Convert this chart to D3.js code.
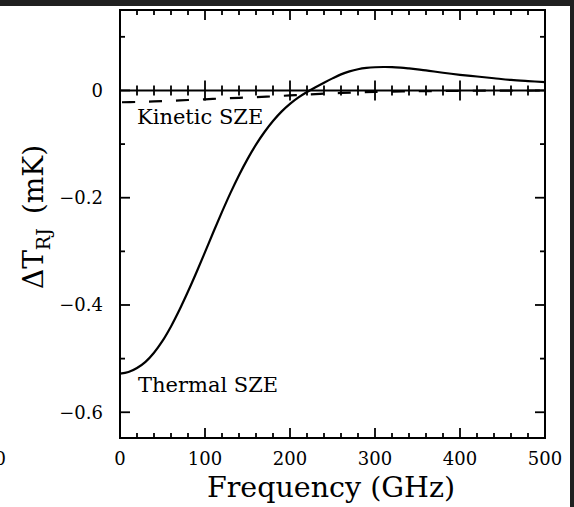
<!DOCTYPE html>
<html><head><meta charset="utf-8">
<script src="https://cdn.jsdelivr.net/npm/d3@7"></script>
<style>html,body{margin:0;padding:0;background:#fff;} svg{display:block;}</style>
</head><body>
<script>
// ---- data ----
const thermalFreq = [0,10,20,30,40,50,60,70,80,90,100,110,120,130,140,150,160,170,180,190,200,210,220,230,240,250,260,270,280,290,300,310,320,330,340,350,360,380,400,420,440,460,480,500];
const thermalVals = [-0.528,-0.525,-0.5175,-0.506,-0.489,-0.467,-0.440,-0.409,-0.375,-0.339,-0.3015,-0.2635,-0.2265,-0.191,-0.158,-0.128,-0.101,-0.0775,-0.057,-0.0395,-0.025,-0.013,-0.003,0.006,0.0145,0.0225,0.030,0.0355,0.0395,0.042,0.0433,0.0437,0.0435,0.0425,0.041,0.0393,0.0375,0.033,0.0292,0.026,0.0228,0.0197,0.0175,0.0156];
const kineticFreq = [0,20,40,60,80,100,120,140,160,180,200,220,240,260,280,300,350,400,450,500];
const kineticVals = [-0.022,-0.0215,-0.0205,-0.0192,-0.0178,-0.0165,-0.015,-0.0138,-0.0126,-0.011,-0.0093,-0.0075,-0.006,-0.0046,-0.0036,-0.0028,-0.0014,-0.0007,-0.0003,-0.0001];
const xMajor = [0,100,200,300,400,500];
const xMinor = [20,40,60,80,120,140,160,180,220,240,260,280,320,340,360,380,420,440,460,480];
const yMajor = [0,-0.2,-0.4,-0.6];
const yMinor = [0.1,-0.1,-0.3,-0.5];
const yTickLabels = ["0","\u22120.2","\u22120.4","\u22120.6"];
const xTickLabels = ["0","100","200","300","400","500"];
const labels = {x:"Frequency (GHz)", kinetic:"Kinetic SZE", thermal:"Thermal SZE"};

const W=574,H=507;
const L=120,R=545,T=10,B=438;
const font="'DejaVu Serif', serif";
const svg=d3.select("body").append("svg").attr("width",W).attr("height",H);
svg.append("rect").attr("width",W).attr("height",H).attr("fill","#fff");

const x=d3.scaleLinear().domain([0,500]).range([L,R]);
const y=d3.scaleLinear().domain([-0.648,0.15]).range([B,T]);

const g=svg.append("g");
// ticks
function tk(x1,y1,x2,y2){g.append("line").attr("x1",x1).attr("y1",y1).attr("x2",x2).attr("y2",y2).attr("stroke","#000").attr("stroke-width",1.8);}
xMajor.forEach(v=>{tk(x(v),B,x(v),B-10);tk(x(v),T,x(v),T+10);tk(x(v),y(0)-10,x(v),y(0)+10);});
xMinor.forEach(v=>{tk(x(v),B,x(v),B-5);tk(x(v),T,x(v),T+5);tk(x(v),y(0)-5,x(v),y(0)+5);});
yMajor.forEach(v=>{tk(L,y(v),L+10,y(v));tk(R,y(v),R-10,y(v));});
yMinor.forEach(v=>{tk(L,y(v),L+5,y(v));tk(R,y(v),R-5,y(v));});
// zero line
g.append("line").attr("x1",L).attr("x2",R).attr("y1",y(0)).attr("y2",y(0)).attr("stroke","#000").attr("stroke-width",2);
// frame
g.append("rect").attr("x",L).attr("y",T).attr("width",R-L).attr("height",B-T).attr("fill","none").attr("stroke","#000").attr("stroke-width",2);

// curves
const line=d3.line().x(d=>x(d[0])).y(d=>y(d[1])).curve(d3.curveCatmullRom.alpha(0.5));
g.append("path").attr("d",line(thermalFreq.map((f,i)=>[f,thermalVals[i]]))).attr("fill","none").attr("stroke","#000").attr("stroke-width",2.2);
g.append("path").attr("d",line(kineticFreq.map((f,i)=>[f,kineticVals[i]]))).attr("fill","none").attr("stroke","#000").attr("stroke-width",2.2).attr("stroke-dasharray","13,14").attr("stroke-dashoffset","-2");

// tick labels
yMajor.forEach((v,i)=>svg.append("text").attr("x",103).attr("y",y(v)+6.5).attr("text-anchor","end").attr("font-family",font).attr("font-size",18).text(yTickLabels[i]));
xMajor.forEach((v,i)=>svg.append("text").attr("x",x(v)).attr("y",465).attr("text-anchor","middle").attr("font-family",font).attr("font-size",18).text(xTickLabels[i]));
// clipped label from neighbouring panel (cut off in the reference too)
svg.append("text").attr("x",6).attr("y",465).attr("text-anchor","end").attr("font-family",font).attr("font-size",18).text("0");

// annotations
svg.append("text").attr("x",137).attr("y",123.5).attr("font-family",font).attr("font-size",21).text(labels.kinetic);
svg.append("text").attr("x",138).attr("y",392).attr("font-family",font).attr("font-size",21).text(labels.thermal);

// axis titles
svg.append("text").attr("x",331).attr("y",497).attr("text-anchor","middle").attr("font-family",font).attr("font-size",28.5).text(labels.x);
const yl=svg.append("text").attr("transform","translate(43,217) rotate(-90)").attr("text-anchor","middle").attr("font-family",font).attr("font-size",28);
yl.append("tspan").text("\u0394T");
yl.append("tspan").attr("font-size",19).attr("dy",7).text("RJ");
yl.append("tspan").attr("dy",-7).attr("dx",14).text("(mK)");

// dark border strips
svg.append("rect").attr("x",0).attr("y",0).attr("width",W).attr("height",6).attr("fill","#202020");
svg.append("rect").attr("x",570).attr("y",0).attr("width",4).attr("height",H).attr("fill","#202020");
</script>
</body></html>
